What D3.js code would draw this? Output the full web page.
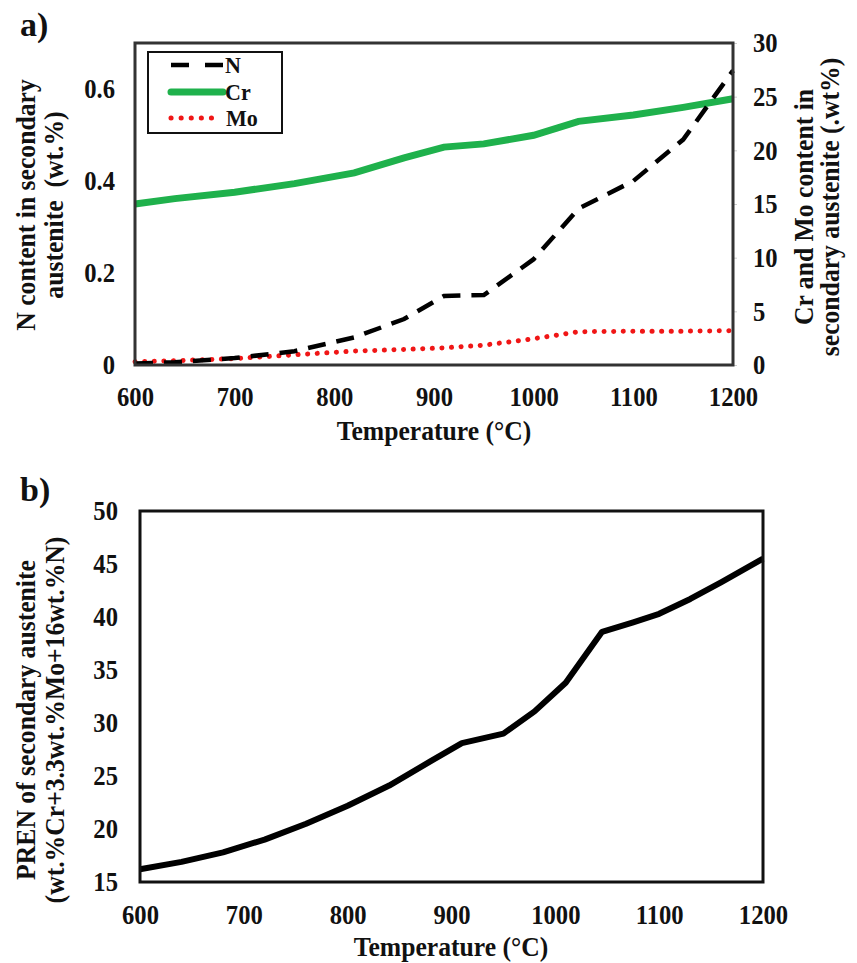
<!DOCTYPE html>
<html>
<head>
<meta charset="utf-8">
<script src="https://cdn.jsdelivr.net/npm/d3@7"></script>
<style>
  body { margin: 0; background: #fff; }
  text { font-family: "Liberation Serif", "Times New Roman", serif; font-weight: bold; fill: #111; white-space: pre; }
</style>
</head>
<body>
<div id="chart"></div>
<script>
// data
const tempsA = [600, 640, 700, 760, 820, 870, 910, 950, 1000, 1045, 1100, 1150, 1200];
const nContent = [0.003, 0.006, 0.015, 0.03, 0.06, 0.10, 0.15, 0.152, 0.23, 0.34, 0.40, 0.49, 0.64];
const crContent = [15.0, 15.5, 16.1, 16.9, 17.9, 19.3, 20.3, 20.6, 21.4, 22.7, 23.3, 24.0, 24.8];
const moContent = [0.3, 0.4, 0.6, 0.95, 1.3, 1.45, 1.6, 1.85, 2.45, 3.1, 3.15, 3.15, 3.2];

const tempsB = [600, 640, 680, 720, 760, 800, 840, 880, 910, 950, 980, 1010, 1045, 1075, 1100, 1130, 1160, 1200];
const pren = [16.2, 16.9, 17.8, 19.0, 20.5, 22.2, 24.1, 26.4, 28.1, 29.0, 31.1, 33.8, 38.6, 39.5, 40.3, 41.7, 43.3, 45.5];

const xTicks = [600, 700, 800, 900, 1000, 1100, 1200];
const nTicks = [0, 0.2, 0.4, 0.6];
const crTicks = [0, 5, 10, 15, 20, 25, 30];
const prenTicks = [15, 20, 25, 30, 35, 40, 45, 50];

const W = 857, H = 963;
const tickSX = 0.88, labSX = 0.95;
const tickFont = "28px";

const svg = d3.select("#chart")
	.append("svg")
	.attr("width", W)
	.attr("height", H);

svg.append("rect").attr("width", W).attr("height", H).attr("fill", "#fff");

// rotated / narrowed label helper
function label(x, y, txt, rot, size) {
	svg.append("text")
		.attr("transform", `translate(${x},${y})${rot ? " rotate(-90)" : ""} scale(${labSX},1)`)
		.attr("text-anchor", "middle")
		.style("font-size", (size || 27) + "px")
		.text(txt);
}

// ---------------- panel a ----------------
const a = {left: 135, right: 733, top: 43, bottom: 365};

const xA = d3.scaleLinear().domain([600, 1200]).range([a.left, a.right]);
const yN = d3.scaleLinear().domain([0, 0.7]).range([a.bottom, a.top]);
const yCr = d3.scaleLinear().domain([0, 30]).range([a.bottom, a.top]);

svg.append("g")
	.attr("transform", `translate(0,${a.bottom})`)
	.call(d3.axisBottom(xA).tickValues(xTicks).tickSize(0).tickPadding(21).tickFormat(d3.format("d")))
	.call(g => g.select(".domain").remove())
	.selectAll("text")
	.style("font-size", tickFont)
	.attr("transform", `scale(${tickSX},1)`);

svg.append("g")
	.attr("transform", `translate(${a.left},0)`)
	.call(d3.axisLeft(yN).tickValues(nTicks).tickSize(0).tickPadding(21).tickFormat(d => d === 0 ? "0" : d3.format(".1f")(d)))
	.call(g => g.select(".domain").remove())
	.selectAll("text")
	.style("font-size", tickFont)
	.attr("transform", `translate(-20,0) scale(${tickSX},1)`)
	.attr("x", 0);

const rightAx = svg.append("g")
	.attr("transform", `translate(${a.right},0)`)
	.call(d3.axisRight(yCr).tickValues(crTicks).tickSize(4).tickPadding(16));
rightAx.select(".domain").remove();
rightAx.selectAll("line").attr("stroke", "#ccc");
rightAx.selectAll("text")
	.style("font-size", tickFont)
	.attr("transform", `translate(20,0) scale(${tickSX},1)`)
	.attr("x", 0);

const lineN = d3.line().x((d, i) => xA(tempsA[i])).y(d => yN(d));
const lineCr = d3.line().x((d, i) => xA(tempsA[i])).y(d => yCr(d));

svg.append("path").datum(crContent)
	.attr("d", lineCr).attr("fill", "none")
	.attr("stroke", "#1fb14c").attr("stroke-width", 7);

svg.append("path").datum(moContent)
	.attr("d", lineCr).attr("fill", "none")
	.attr("stroke", "#f01616").attr("stroke-width", 5)
	.attr("stroke-linecap", "round").attr("stroke-dasharray", "0.1 9.5");

svg.append("path").datum(nContent)
	.attr("d", lineN).attr("fill", "none")
	.attr("stroke", "#000").attr("stroke-width", 4.5)
	.attr("stroke-dasharray", "18 11");

// plot box
svg.append("rect")
	.attr("x", a.left).attr("y", a.top)
	.attr("width", a.right - a.left).attr("height", a.bottom - a.top)
	.attr("fill", "none").attr("stroke", "#333").attr("stroke-width", 3);

// legend
const leg = svg.append("g");
leg.append("rect").attr("x", 148).attr("y", 52).attr("width", 134).attr("height", 81)
	.attr("fill", "#fff").attr("stroke", "#111").attr("stroke-width", 2);
const legItems = [
	{name: "N", color: "#000", w: 4.5, dash: "18 16", cap: "butt", y: 65},
	{name: "Cr", color: "#1fb14c", w: 7, dash: null, cap: "round", y: 92},
	{name: "Mo", color: "#f01616", w: 5, dash: "0.1 10", cap: "round", y: 118}
];
legItems.forEach(d => {
	leg.append("line")
		.attr("x1", 171).attr("x2", d.name === "Mo" ? 212 : 223)
		.attr("y1", d.y).attr("y2", d.y)
		.attr("stroke", d.color).attr("stroke-width", d.w)
		.attr("stroke-linecap", d.cap)
		.attr("stroke-dasharray", d.dash);
	leg.append("text")
		.attr("transform", `translate(${d.name === "Mo" ? 226 : 225},${d.y + 8}) scale(0.92,1)`)
		.style("font-size", "24px")
		.text(d.name);
});

// titles
svg.append("text").attr("x", 20).attr("y", 36).style("font-size", "34px").text("a)");
label(434, 440, "Temperature (°C)");
label(35, 205, "N content in secondary", true);
label(63, 205, "austenite  (wt.%)", true);
label(813, 207, "Cr and Mo content in", true);
label(839, 207, "secondary austenite (.wt%)", true);

// ---------------- panel b ----------------
const b = {left: 140, right: 763, top: 511, bottom: 882};

const xB = d3.scaleLinear().domain([600, 1200]).range([b.left, b.right]);
const yP = d3.scaleLinear().domain([15, 50]).range([b.bottom, b.top]);

svg.append("g")
	.attr("transform", `translate(0,${b.bottom})`)
	.call(d3.axisBottom(xB).tickValues(xTicks).tickSize(0).tickPadding(22).tickFormat(d3.format("d")))
	.call(g => g.select(".domain").remove())
	.selectAll("text")
	.style("font-size", tickFont)
	.attr("transform", `scale(${tickSX},1)`);

svg.append("g")
	.attr("transform", `translate(${b.left},0)`)
	.call(d3.axisLeft(yP).tickValues(prenTicks).tickSize(0).tickPadding(22))
	.call(g => g.select(".domain").remove())
	.selectAll("text")
	.style("font-size", tickFont)
	.attr("transform", `translate(-22,0) scale(${tickSX},1)`)
	.attr("x", 0);

svg.append("path").datum(pren)
	.attr("d", d3.line().x((d, i) => xB(tempsB[i])).y(d => yP(d)))
	.attr("fill", "none").attr("stroke", "#000").attr("stroke-width", 6)
	.attr("stroke-linejoin", "round");

svg.append("rect")
	.attr("x", b.left).attr("y", b.top)
	.attr("width", b.right - b.left).attr("height", b.bottom - b.top)
	.attr("fill", "none").attr("stroke", "#111").attr("stroke-width", 3);

svg.append("text").attr("x", 20).attr("y", 501).style("font-size", "34px").text("b)");
label(451, 956, "Temperature (°C)");
label(35, 720, "PREN of secondary austenite", true);
label(64, 720, "(wt.%Cr+3.3wt.%Mo+16wt.%N)", true);
</script>
</body>
</html>
